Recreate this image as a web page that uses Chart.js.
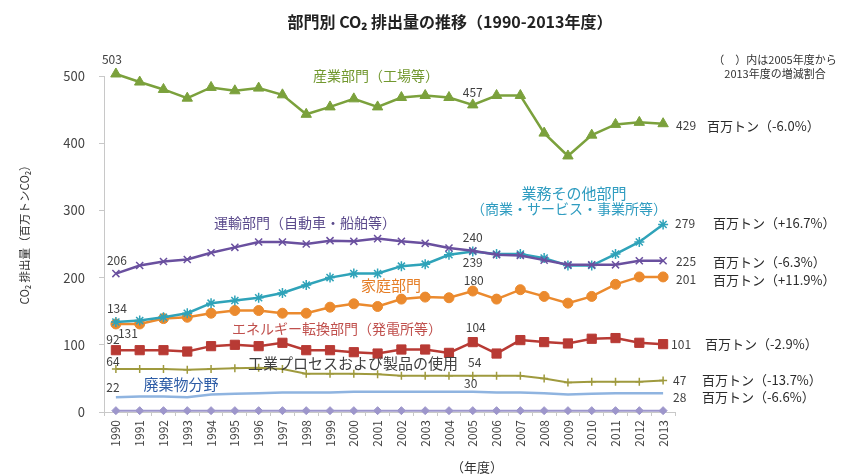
<!DOCTYPE html>
<html>
<head>
<meta charset="utf-8">
<script src="https://cdn.jsdelivr.net/npm/chart.js@4.4.1/dist/chart.umd.min.js"></script>
<style>
  html, body { margin: 0; padding: 0; background: #fff; }
  #wrap { width: 844px; height: 475px; }
</style>
</head>
<body>
<div id="wrap"><canvas id="co2Chart" width="844" height="475"></canvas></div>
<script>
// years (fiscal)
const years = ['1990','1991','1992','1993','1994','1995','1996','1997','1998','1999','2000','2001',
  '2002','2003','2004','2005','2006','2007','2008','2009','2010','2011','2012','2013'];

// 百万トンCO2
const industry    = [503,491,480,467,483,478,482,472,443,454,466,454,468,471,468,457,471,471,415,381,412,428,431,429];
const transport   = [206,218,224,227,237,245,253,253,250,255,254,258,254,251,244,240,234,233,226,219,219,219,225,225];
const commercial  = [134,136,141,147,162,166,170,177,189,200,206,206,217,220,234,239,235,235,229,218,218,235,253,279];
const residential = [131,131,139,141,147,151,151,147,147,156,161,157,168,171,170,180,168,182,172,162,172,190,201,201];
const energy      = [92,92,92,90,98,100,98,103,92,92,89,87,93,93,88,104,87,107,104,102,109,110,103,101];
const process     = [64,64,64,63,64,65,66,64,57,57,57,56,54,54,54,54,54,54,50,44,45,45,45,47];
const waste       = [22,23,23,22,26,27,28,29,29,29,30,30,30,30,30,30,29,29,28,26,27,28,28,28];
const other       = [2,2,2,2,2,2,2,2,2,2,2,2,2,2,2,2,2,2,2,2,2,2,2,2];

const yTicks = [0, 100, 200, 300, 400, 500];

// 2005 -> 2013 change notes at the right edge
const endNotes = ['百万トン（-6.0%）','百万トン（-6.3%）','百万トン（+16.7%）','百万トン（+11.9%）',
  '百万トン（-2.9%）','百万トン（-13.7%）','百万トン（-6.6%）', null];

const JP = '"Noto Sans CJK JP", "Noto Sans", sans-serif';

// value labels shown at 1990 / 2005 / 2013: [startDx, startDy, midDx, midDy, endDx, endDy, noteDx]
const labelOffsets = [
  [-4, -15, 0, -12, 13, 2, 44],
  [1, -13, 0, -13, 13, 1, 50],
  [1, -14, 0, 11, 12, -1, 50],
  [12, 9, 1, -11, 13, 3, 50],
  [-3, -11, 3, -15, 8, 0, 42],
  [-3, -8, 2, -13, 10, 0, 39],
  [-3, -10, -2, -8, 10, 4, 39],
  null
];

// sector names drawn inside the plot
const sectorNames = [
  { text: '産業部門（工場等）', x: 376, y: 76, color: '#72982f', size: 14 },
  { text: '運輸部門（自動車・船舶等）', x: 305, y: 223, color: '#5b4a8c', size: 14 },
  { text: '業務その他部門', x: 574, y: 193, color: '#2f9cc0', size: 15 },
  { text: '（商業・サービス・事業所等）', x: 569, y: 209, color: '#2f9cc0', size: 14 },
  { text: '家庭部門', x: 391, y: 285, color: '#e57d25', size: 15 },
  { text: 'エネルギー転換部門（発電所等）', x: 337, y: 329, color: '#c0504d', size: 14 },
  { text: '工業プロセスおよび製品の使用', x: 353, y: 363, color: '#404040', size: 15 },
  { text: '廃棄物分野', x: 181, y: 384, color: '#2d5ca6', size: 15 }
];

const textPlugin = {
  id: 'textPlugin',
  afterDraw(chart) {
    const ctx = chart.ctx;
    const xs = chart.scales.x, ys = chart.scales.y;
    ctx.save();
    ctx.textBaseline = 'middle';

    // title
    ctx.fillStyle = '#222';
    ctx.textAlign = 'center';
    ctx.font = 'bold 16px ' + JP;
    ctx.fillText('部門別 CO₂ 排出量の推移（1990-2013年度）', 450, 22);

    // note top right
    ctx.font = '11px ' + JP;
    ctx.fillStyle = '#333';
    ctx.fillText('（　）内は2005年度から', 775, 60);
    ctx.fillText('2013年度の増減割合', 775, 74);

    // y axis title
    ctx.save();
    ctx.translate(25, 232);
    ctx.rotate(-Math.PI / 2);
    ctx.font = '11.5px ' + JP;
    ctx.fillStyle = '#333';
    ctx.fillText('CO₂ 排出量（百万トンCO₂）', 0, 0);
    ctx.restore();

    // x axis title
    ctx.font = '13px ' + JP;
    ctx.fillStyle = '#333';
    ctx.fillText('（年度）', 477, 467);

    // sector names
    sectorNames.forEach(function (n) {
      ctx.font = n.size + 'px ' + JP;
      ctx.fillStyle = n.color;
      ctx.fillText(n.text, n.x, n.y);
    });

    // value labels
    chart.data.datasets.forEach(function (ds, i) {
      const o = labelOffsets[i];
      if (!o) return;
      const d = ds.data;
      const last = d.length - 1;
      ctx.font = '12px ' + JP;
      ctx.fillStyle = '#404040';
      ctx.textAlign = 'center';
      ctx.fillText(String(d[0]), xs.getPixelForValue(0) + o[0], ys.getPixelForValue(d[0]) + o[1]);
      ctx.fillText(String(d[15]), xs.getPixelForValue(15) + o[2], ys.getPixelForValue(d[15]) + o[3]);
      ctx.textAlign = 'left';
      const ex = xs.getPixelForValue(last);
      const ey = ys.getPixelForValue(d[last]) + o[5];
      ctx.fillText(String(d[last]), ex + o[4], ey);
      ctx.font = '13px ' + JP;
      ctx.fillStyle = '#2a2a2a';
      ctx.fillText(endNotes[i], ex + o[6], ey);
    });
    ctx.restore();
  }
};

function makeSeries(data, color, style, radius, width) {
  return {
    data: data,
    borderColor: color,
    backgroundColor: color,
    pointBorderColor: color,
    pointBackgroundColor: color,
    pointStyle: style,
    pointRadius: radius,
    pointBorderWidth: style === 'crossRot' || style === 'star' || style === 'cross' ? 1.5 : 1,
    borderWidth: width,
    tension: 0,
    fill: false,
    clip: false
  };
}

const datasets = [
  makeSeries(industry, '#7ba13c', 'triangle', 6, 2.5),
  makeSeries(transport, '#6a509f', 'crossRot', 5, 2.5),
  makeSeries(commercial, '#2fa3b9', 'star', 5, 2.5),
  makeSeries(residential, '#eb8a2e', 'circle', 5, 2.5),
  makeSeries(energy, '#b83a34', 'rect', 6.5, 2.5),
  makeSeries(process, '#9f9a3e', 'cross', 4, 2),
  makeSeries(waste, '#8fb4e0', 'circle', 0, 2.5),
  makeSeries(other, '#9d96cb', 'rectRot', 4, 2)
];

new Chart(document.getElementById('co2Chart'), {
  type: 'line',
  data: { labels: years, datasets: datasets },
  options: {
    responsive: false,
    animation: false,
    devicePixelRatio: 1,
    layout: { padding: { left: 0, top: 76, right: 169, bottom: 0 } },
    plugins: { legend: { display: false }, tooltip: { enabled: false } },
    scales: {
      x: {
        type: 'category',
        offset: true,
        afterFit: function (scale) { scale.height = 63; },
        grid: { display: true, drawOnChartArea: false, drawTicks: true, tickLength: 4, color: '#c8c8c8', offset: true },
        border: { display: true, color: '#c8c8c8' },
        ticks: {
          maxRotation: 90, minRotation: 90, autoSkip: false, padding: 4,
          color: '#444', font: { family: JP, size: 12 }
        }
      },
      y: {
        min: 0, max: 500,
        afterFit: function (scale) { scale.width = 104; },
        afterBuildTicks: function (scale) { scale.ticks = yTicks.map(function (v) { return { value: v }; }); },
        grid: { display: true, drawOnChartArea: false, drawTicks: true, tickLength: 5, color: '#c8c8c8' },
        border: { display: true, color: '#c8c8c8' },
        ticks: { padding: 14, color: '#444', font: { family: JP, size: 13 } }
      }
    }
  },
  plugins: [textPlugin]
});
</script>
</body>
</html>
